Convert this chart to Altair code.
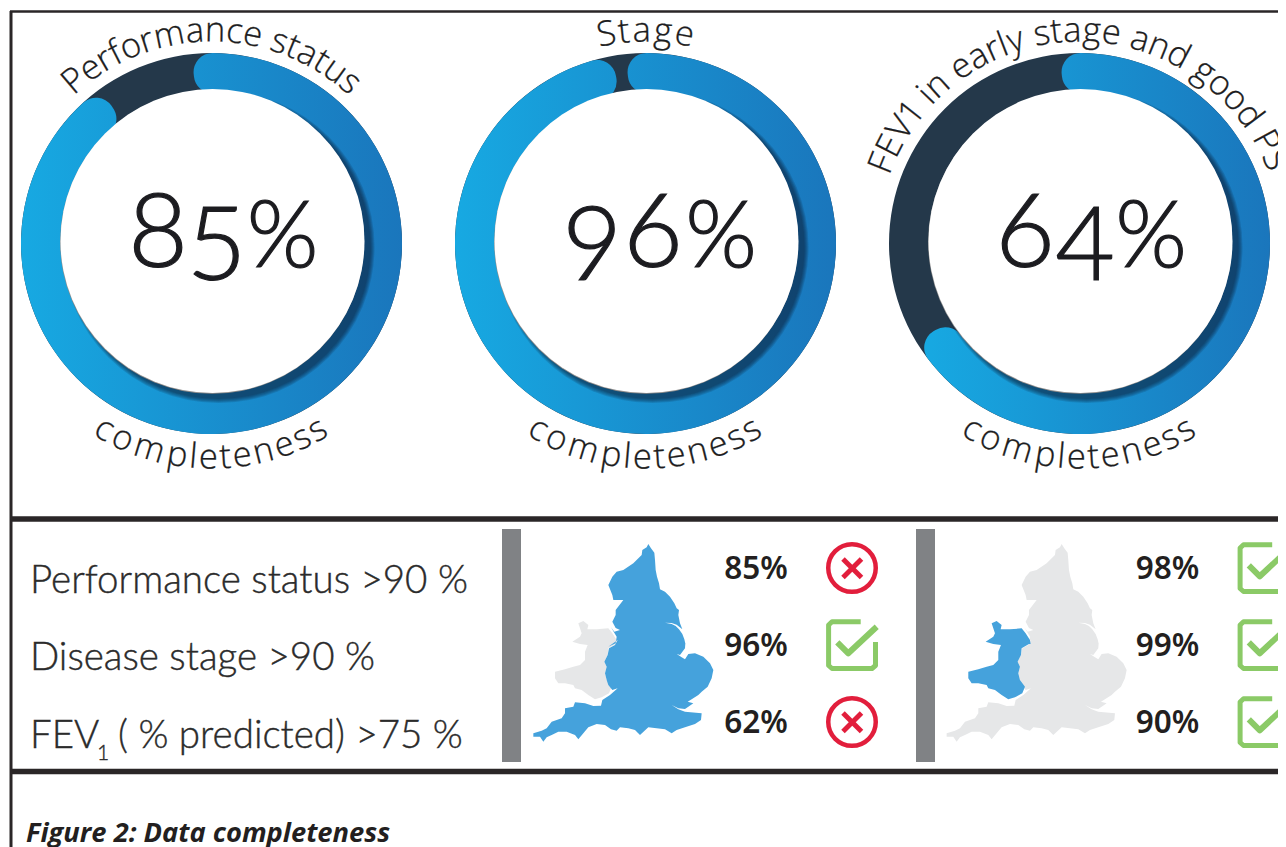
import math
import altair as alt
import pandas as pd

# ---- values ----
ring_centres = [211.5, 645.5, 1079.5]
ring_cy = 243.5
arc_start = [354, 354, 354]
arc_end = [684, 710, 599]
big_text = ["8", "5", "%", "9", "6", "%", "6", "4", "%"]
big_x = [158, 216.5, 282.5, 592, 653, 721, 1025, 1085, 1151]
big_y = [267, 280, 267, 280, 267, 267, 267, 280, 267]
big_size = [103, 103, 92, 103, 103, 92, 103, 103, 92]

top_labels = ["Performance status", "Stage", "FEV1 in early stage and good PS"]
top_from = [-43, -13.5, -70.5]
top_to = [43, 13.5, 69.5]
bottom_label = "completeness"
bottom_from = 32.5
bottom_to = -32

left_labels = ["Performance status >90 %", "Disease stage >90 %", "FEV", "( % predicted) >75 %"]
left_x = [30, 30, 30, 118]
left_y = [592.5, 670, 747.5, 747.5]
sub_label = "1"

panel_pct = ["85%", "96%", "62%", "98%", "99%", "90%"]
pct_x = [756, 756, 756, 1167.5, 1167.5, 1167.5]
pct_y = [578.5, 655.5, 732.5, 578.5, 655.5, 732.5]
icon_x = [852, 852, 852, 1263.5, 1263.5, 1263.5]
icon_y = [568, 645, 722, 568, 645, 722]
icon_ok = [False, True, False, True, True, True]

england_top = [(370,12),(378,25),(388,38),(390,60),(392,90),(396,110),(402,130),(405,148),(420,155),(435,170),(448,190),(455,205),(462,210),(460,225),(465,250),(472,268),(455,254),(440,249),(420,248),(440,252),(452,258),(462,268),(472,282),(478,298),(482,315)]
england_low = [(481,10),(480,25),(465,45),(455,42),(470,52),(480,58),(490,42),(510,40),(535,50),(555,70),(565,90),(560,115),(548,140),(530,155),(520,165),(500,178),(488,185),(505,190),(490,200),(480,207),(460,205),(440,195),(460,208),(480,215),(530,220),(528,240),(510,252),(480,262),(455,270),(440,280),(420,268),(395,265),(370,262),(345,285),(330,270),(310,265),(285,262),(275,272),(258,268),(240,255),(215,252),(190,262),(175,280),(160,298),(150,285),(125,275),(100,275),(80,285),(65,292),(55,305),(45,290),(25,290),(25,280),(50,272),(65,265),(80,245),(110,235),(120,220),(120,205),(145,200),(150,187),(180,190),(205,198),(228,197),(232,180),(255,165),(278,145),(262,150),(250,135),(245,120),(240,100),(245,80),(238,65),(248,45),(252,25),(270,15),(278,0)]
england_back = [(250,320),(272,310),(275,290),(258,262),(268,275),(285,270),(272,264),(262,245),(272,225),(272,210),(295,180),(278,180),(265,180),(262,165),(250,135),(262,110),(275,95),(295,90),(325,70),(350,45),(352,30),(365,22)]
wales_top = [(160,250),(175,243),(190,255),(187,268),(215,268),(250,265),(262,280),(275,300),(277,312)]
wales_low = [(272,12),(250,25),(248,45),(238,65),(245,80),(240,100),(245,120),(260,140),(252,160),(230,172),(210,178),(190,165),(170,150),(150,145),(145,135),(120,130),(100,130),(90,115),(90,95),(120,88),(145,80),(165,75),(180,60),(180,35),(188,15)]
wales_back = [(165,312),(142,305),(165,290),(170,280),(165,265)]
map_shift = 413.3

# ---- helpers ----
X = alt.X("x:Q", scale=alt.Scale(domain=[8, 1278], nice=False, zero=False), axis=None)
Y = alt.Y("y:Q", scale=alt.Scale(domain=[847, 8], nice=False, zero=False), axis=None)
X2 = alt.X2("x2:Q")
Y2 = alt.Y2("y2:Q")

widths = dict(a=.55,b=.6,c=.5,d=.6,e=.55,f=.33,g=.55,h=.6,i=.25,l=.25,m=.92,n=.6,o=.6,p=.6,r=.38,s=.47,t=.35,u=.6,y=.5)
widths.update({" ": .27, "F": .53, "E": .55, "V": .62, "P": .6, "S": .55, "1": .45})


def spread(label, a0, a1):
    adv = [widths[c] for c in label]
    total = sum(adv)
    pos, out = 0, []
    for w in adv:
        out.append(a0 + (a1 - a0) * (pos + w / 2) / total)
        pos += w
    return out


rows = []
for cx, lab, a0, a1 in zip(ring_centres, top_labels, top_from, top_to):
    for ch, a in zip(lab, spread(lab, a0, a1)):
        r = math.radians(a)
        rows.append(dict(text=ch, x=cx + 202 * math.sin(r), y=ring_cy - 202 * math.cos(r), angle=a % 360))
    for ch, a in zip(bottom_label, spread(bottom_label, bottom_from, bottom_to)):
        r = math.radians(a)
        rows.append(dict(text=ch, x=cx - 225 * math.sin(r), y=ring_cy + 225 * math.cos(r), angle=a % 360))
curved = pd.DataFrame(rows)

base_ring = pd.DataFrame(dict(x=ring_centres, y=[ring_cy] * 3, t=[0] * 3, t2=[360] * 3))
blue_arc = pd.DataFrame(dict(x=ring_centres, y=[ring_cy] * 3, t=arc_start, t2=arc_end))
theta_scale = alt.Scale(domain=[0, 360], range=[0, 2 * math.pi])


def arcs(df, **mark):
    return alt.Chart(df).mark_arc(**mark).encode(
        x=X, y=Y,
        theta=alt.Theta("t:Q", scale=theta_scale, stack=None),
        theta2=alt.Theta2("t2:Q"),
    )


ring = arcs(base_ring, radius=190.5, radius2=150, color="#24384a")
gradient = alt.LinearGradient(
    gradient="linear", x1=0, x2=1, y1=0, y2=0,
    stops=[alt.GradientStop(color="#17a9e2", offset=0), alt.GradientStop(color="#1a76bc", offset=1)],
)
blue = arcs(blue_arc, radius=190.5, radius2=150, cornerRadius=19, color=gradient)

shadow_rows = []
for cx in ring_centres:
    for k in range(4, -1, -1):
        shadow_rows.append(dict(x=cx + 1 + 6, y=241 + 6, s=(2 * (152 + k)) ** 2))
shadow = alt.Chart(pd.DataFrame(shadow_rows)).mark_circle(color="#0a2236", opacity=0.16).encode(
    x=X, y=Y, size=alt.Size("s:Q", scale=None))
edge = alt.Chart(pd.DataFrame(dict(x=[c + 0.6 for c in ring_centres], y=[241.8] * 3, s=[304.0 ** 2] * 3))).mark_circle(
    color="#8f8f8f", opacity=1).encode(x=X, y=Y, size=alt.Size("s:Q", scale=None))
disc = alt.Chart(pd.DataFrame(dict(x=[c + 1 for c in ring_centres], y=[241] * 3, s=[304.0 ** 2] * 3))).mark_circle(
    color="#ffffff", opacity=1).encode(x=X, y=Y, size=alt.Size("s:Q", scale=None))


def texts(df, font, align="center", color="#1c1c20", **mark):
    enc = dict(x=X, y=Y, text="text:N", size=alt.Size("fs:Q", scale=None))
    if "angle" in df:
        enc["angle"] = alt.Angle("angle:Q", scale=None)
    return alt.Chart(df).mark_text(font=font, align=align, baseline="alphabetic", color=color, **mark).encode(**enc)


curved["fs"] = 34.5
curved_text = texts(curved, "Open Sans", fontWeight=300, stroke="#1c1c20", strokeWidth=0.3)
big = texts(pd.DataFrame(dict(text=big_text, x=big_x, y=big_y, fs=big_size)), "Lato", fontWeight=300,
            stroke="#1c1c20", strokeWidth=1.2)
left = texts(pd.DataFrame(dict(text=left_labels, x=left_x, y=left_y, fs=[38.5] * 4)), "Lato", align="left",
             color="#2b2b2b", fontWeight=300, stroke="#2b2b2b", strokeWidth=0.4)
sub = texts(pd.DataFrame(dict(text=[sub_label], x=[103], y=[760], fs=[21])), "Lato", color="#2b2b2b", fontWeight=300,
            stroke="#2b2b2b", strokeWidth=0.4)
caption = texts(pd.DataFrame(dict(text=["Figure 2: Data completeness"], x=[26], y=[842], fs=[27.3])), "Open Sans",
                align="left", color="#231f20", fontWeight="bold", fontStyle="italic")
pct = texts(pd.DataFrame(dict(text=panel_pct, x=pct_x, y=pct_y, fs=[31.5] * 6)), "Noto Sans",
            color="#231f20", fontWeight=600)

# frame lines
rule_df = pd.DataFrame(dict(
    x=[10, 10, 10, 11], x2=[1278, 1278, 1278, 11], y=[11.5, 519, 771.5, 11], y2=[11.5, 519, 771.5, 847],
    w=[2.6, 5.5, 5.5, 3]))
rules = alt.Chart(rule_df).mark_rule(color="#2a2627").encode(
    x=X, x2=X2, y=Y, y2=Y2, strokeWidth=alt.StrokeWidth("w:Q", scale=None))
bars = alt.Chart(pd.DataFrame(dict(x=[502, 916], x2=[521, 935], y=[529, 529], y2=[762, 762]))).mark_rect(
    color="#808285").encode(x=X, x2=X2, y=Y, y2=Y2)

# maps
def conv(points, top):
    return [[525 + a / 3, (540 if top else 640) + b / 3] for a, b in points]


england_ring = conv(england_top, True) + conv(england_low, False) + conv(england_back, True)
wales_ring = conv(wales_top, True) + conv(wales_low, False) + conv(wales_back, True)


def feat(points, dx, fill):
    pts = [[a + dx, b] for a, b in points]
    pts.append(pts[0])
    return {"type": "Feature", "properties": {"fill": fill}, "geometry": {"type": "Polygon", "coordinates": [pts]}}


features = [
    feat(wales_ring, 0, "#e6e7e8"), feat(england_ring, 0, "#45a2dc"),
    feat(england_ring, map_shift, "#e6e7e8"), feat(wales_ring, map_shift, "#45a2dc"),
]
maps = alt.Chart(alt.Data(values=features)).mark_geoshape(strokeWidth=0).encode(
    color=alt.Color("properties.fill:N", scale=None)
).project(type="identity", scale=1, translate=[-8, -8])

# icons
reds = [(a, b) for a, b, ok in zip(icon_x, icon_y, icon_ok) if not ok]
greens = [(a, b) for a, b, ok in zip(icon_x, icon_y, icon_ok) if ok]
red_ring = alt.Chart(pd.DataFrame(dict(x=[a for a, _ in reds], y=[b for _, b in reds]))).mark_point(
    shape="circle", filled=False, size=2256, strokeWidth=4.5, color="#e21e3c", opacity=1).encode(x=X, y=Y)
cross = [(-9, -9, 9.5, 9.5), (-9, 9.5, 9.5, -9)]
red_x = alt.Chart(pd.DataFrame([
    dict(x=a + c[0], y=b + c[1], x2=a + c[2], y2=b + c[3]) for a, b in reds for c in cross
])).mark_rule(color="#e21e3c", strokeWidth=5).encode(x=X, x2=X2, y=Y, y2=Y2)

box_path = [(8.7, -23.2), (-20, -23.2), (-23.4, -20), (-23.4, 20.5), (-20, 23.5), (20, 23.5), (23.5, 20.5), (23.5, -3)]
tick_path = [(-14.7, -2.7), (-3.7, 8.3), (24.7, -18.3)]
line_rows = []
for i, (a, b) in enumerate(greens):
    for j, (u, v) in enumerate(box_path):
        line_rows.append(dict(x=a + u, y=b + v, g=f"b{i}", o=j, w=5))
    for j, (u, v) in enumerate(tick_path):
        line_rows.append(dict(x=a + u, y=b + v, g=f"t{i}", o=j, w=6))
green = alt.Chart(pd.DataFrame(line_rows)).mark_line(color="#8bca67", strokeJoin="round").encode(
    x=X, y=Y, detail="g:N", order="o:Q", strokeWidth=alt.StrokeWidth("w:Q", scale=None))

chart = alt.layer(
    ring, blue, shadow, edge, disc, big, curved_text, rules, bars, maps, left, sub, caption, pct,
    red_ring, red_x, green,
).properties(
    width=1270, height=839, padding=0, background="#ffffff",
    autosize=alt.AutoSizeParams(type="none"),
).configure_view(stroke=None)

chart.save("out.html", embed_options={"renderer": "svg", "actions": False})
